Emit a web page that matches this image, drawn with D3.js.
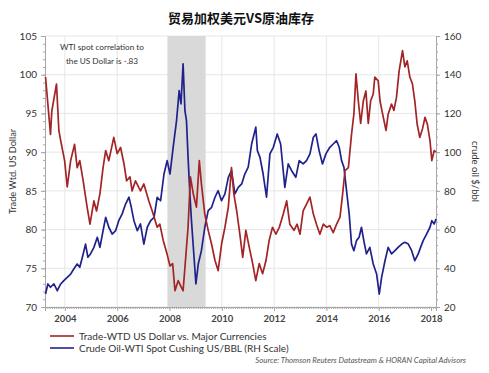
<!DOCTYPE html>
<html><head><meta charset="utf-8">
<script src="https://cdn.jsdelivr.net/npm/d3@7"></script>
<style>body{margin:0;background:#fff}svg{display:block}</style>
</head><body>
<svg id="c" width="489" height="373"></svg>
<script>
const title = "贸易加权美元VS原油库存";
const leftTicks = [70,75,80,85,90,95,100,105];
const rightTicks = [20,40,60,80,100,120,140,160];
const yearTicks = [2004,2006,2008,2010,2012,2014,2016,2018];
const recession = [2007.92, 2009.38];

const dollarYears = [2003.26,2003.45,2003.5,2003.68,2003.77,2003.84,2003.99,2004.09,2004.22,2004.37,2004.47,2004.57,2004.7,2004.85,2004.96,2005.11,2005.21,2005.34,2005.46,2005.56,2005.68,2005.87,2006.0,2006.13,2006.26,2006.36,2006.49,2006.57,2006.7,2006.89,2007.02,2007.21,2007.34,2007.53,2007.63,2007.76,2007.91,2008.02,2008.12,2008.21,2008.33,2008.46,2008.52,2008.59,2008.71,2008.8,2008.91,2009.03,2009.14,2009.22,2009.35,2009.48,2009.61,2009.74,2009.86,2009.99,2010.12,2010.25,2010.37,2010.46,2010.57,2010.69,2010.8,2010.92,2011.05,2011.18,2011.3,2011.43,2011.56,2011.69,2011.81,2011.94,2012.07,2012.2,2012.35,2012.48,2012.6,2012.76,2012.88,2012.99,2013.11,2013.24,2013.37,2013.5,2013.62,2013.75,2013.88,2014.01,2014.13,2014.26,2014.39,2014.52,2014.62,2014.71,2014.84,2014.96,2015.05,2015.13,2015.22,2015.31,2015.41,2015.51,2015.6,2015.69,2015.79,2015.85,2015.98,2016.05,2016.15,2016.28,2016.36,2016.49,2016.58,2016.68,2016.78,2016.91,2017.0,2017.09,2017.19,2017.29,2017.38,2017.47,2017.57,2017.68,2017.77,2017.86,2017.96,2018.03,2018.12,2018.19];
const dollarValues = [99.7,92.3,95.3,98.8,92.8,91.5,88.9,85.5,88.9,91.0,88.0,88.9,86.3,82.9,80.7,83.7,82.4,84.6,88.0,90.2,88.9,91.9,89.8,90.6,88.5,86.3,86.8,85.0,86.3,85.0,85.9,83.7,82.4,80.3,80.7,78.6,76.8,75.3,75.6,72.1,73.4,72.5,72.1,75.1,80.3,86.8,84.6,82.9,88.9,85.9,82.0,79.9,78.1,76.0,74.7,78.1,80.3,82.9,88.0,84.6,82.4,79.4,76.4,79.9,77.7,75.6,73.4,75.6,74.3,76.0,78.6,80.3,79.4,80.3,82.0,83.7,80.7,79.9,80.7,79.4,82.4,83.3,84.2,82.0,80.7,79.4,80.7,80.3,80.5,79.6,80.7,81.6,84.6,87.6,88.0,92.3,94.9,100.1,96.6,93.7,96.6,97.9,93.7,96.6,97.5,99.7,99.2,96.6,94.9,92.8,94.9,96.2,95.4,97.1,100.5,103.1,101.0,101.8,99.7,98.8,96.6,93.6,91.9,93.1,94.5,93.6,91.5,88.9,90.2,90.0];

const oilYears = [2003.26,2003.35,2003.45,2003.58,2003.71,2003.84,2003.96,2004.09,2004.22,2004.34,2004.47,2004.57,2004.7,2004.79,2004.88,2004.98,2005.11,2005.24,2005.34,2005.46,2005.56,2005.68,2005.81,2005.94,2006.06,2006.19,2006.32,2006.45,2006.54,2006.64,2006.77,2006.89,2007.02,2007.15,2007.28,2007.41,2007.53,2007.66,2007.79,2007.91,2008.02,2008.14,2008.27,2008.37,2008.44,2008.52,2008.59,2008.65,2008.71,2008.78,2008.84,2008.93,2009.01,2009.1,2009.22,2009.35,2009.48,2009.61,2009.74,2009.86,2009.99,2010.12,2010.25,2010.37,2010.5,2010.63,2010.76,2010.88,2011.01,2011.14,2011.3,2011.36,2011.46,2011.58,2011.71,2011.84,2011.97,2012.12,2012.25,2012.41,2012.54,2012.67,2012.83,2012.96,2013.11,2013.24,2013.37,2013.5,2013.6,2013.72,2013.85,2013.98,2014.13,2014.26,2014.39,2014.49,2014.58,2014.67,2014.77,2014.87,2014.96,2015.05,2015.15,2015.25,2015.34,2015.43,2015.53,2015.66,2015.79,2015.92,2016.02,2016.11,2016.24,2016.36,2016.49,2016.62,2016.74,2016.88,2017.0,2017.13,2017.26,2017.38,2017.51,2017.6,2017.7,2017.83,2017.96,2018.03,2018.12,2018.19];
const oilValues = [26.7,31.9,30.2,31.9,28.4,31.9,33.6,35.3,37.0,39.6,42.2,40.5,47.4,52.5,45.7,47.4,50.8,56.0,50.8,59.4,66.3,61.2,57.7,59.4,64.6,68.1,73.2,76.7,71.5,64.6,59.4,62.9,52.5,61.2,64.6,66.3,76.7,74.9,88.7,95.6,88.7,102.5,116.3,131.8,124.9,145.6,121.4,116.3,97.3,78.4,64.6,47.4,31.9,42.2,49.1,61.2,69.8,71.5,76.7,80.1,74.9,78.4,87.0,90.4,78.4,81.8,83.6,88.7,92.2,104.2,112.9,100.8,97.3,88.7,76.7,99.1,102.5,109.4,104.2,81.8,93.9,90.4,87.0,95.6,93.9,95.6,99.1,107.7,109.4,100.8,93.9,99.1,102.5,104.2,105.9,102.5,95.6,92.2,80.1,68.1,52.5,49.1,54.3,56.0,61.2,54.3,47.4,50.8,42.2,37.0,26.7,35.3,43.9,50.8,47.4,49.1,50.8,52.5,53.4,52.5,49.1,43.9,47.4,50.8,54.3,57.7,61.2,64.6,62.9,65.5];

const legendLabels = ["Trade-WTD US Dollar vs. Major Currencies","Crude Oil-WTI Spot Cushing US/BBL (RH Scale)"];
const seriesColors = ["#a32426","#20228c"];

const svg = d3.select("#c");
const m = {l:45, r:436, t:36, b:307};
const x = d3.scaleLinear().domain([2003.24, 2018.19]).range([m.l, m.r]);
const yL = d3.scaleLinear().domain([70,105]).range([m.b, m.t]);
const yR = d3.scaleLinear().domain([20,160]).range([m.b, m.t]);
const font = "Lato, 'Open Sans', sans-serif";

// title
svg.append("text").attr("x",241).attr("y",23).attr("text-anchor","middle")
  .attr("font-family","'Noto Sans CJK SC', sans-serif").attr("font-weight","bold")
  .attr("font-size",13).attr("fill","#111").text(title);

// gridlines
const g = svg.append("g");
g.selectAll(".hg").data(leftTicks).join("line")
  .attr("x1",m.l).attr("x2",m.r).attr("y1",d=>yL(d)).attr("y2",d=>yL(d))
  .attr("stroke","#e6e6e6").attr("stroke-width",1);
g.selectAll(".vg").data(yearTicks.filter(d=>d<2018)).join("line")
  .attr("x1",d=>x(d)).attr("x2",d=>x(d)).attr("y1",m.t).attr("y2",m.b)
  .attr("stroke","#e6e6e6").attr("stroke-width",1);

// recession shading
svg.append("rect").attr("x",x(recession[0])).attr("width",x(recession[1])-x(recession[0]))
  .attr("y",m.t).attr("height",m.b-m.t).attr("fill","#d9d9d9");

// axes
const axisColor = "#a6a6a6";
const styleAxis = sel => {
  sel.select(".domain").attr("stroke",axisColor);
  sel.selectAll(".tick line").attr("stroke",axisColor);
  sel.selectAll("text").attr("font-family",font).attr("font-size",10).attr("fill","#333");
};
svg.append("g").attr("transform",`translate(${m.l},0)`)
  .call(d3.axisLeft(yL).tickValues(d3.range(70,105.01,1)).tickSize(2).tickFormat(""))
  .call(s=>{s.select(".domain").remove();s.selectAll("line").attr("stroke",axisColor);});
svg.append("g").attr("transform",`translate(${m.r},0)`)
  .call(d3.axisRight(yR).tickValues(d3.range(20,160.01,4)).tickSize(2).tickFormat(""))
  .call(s=>{s.select(".domain").remove();s.selectAll("line").attr("stroke",axisColor);});
svg.append("g").attr("transform",`translate(0,${m.b})`)
  .call(d3.axisBottom(x).tickValues(d3.range(2003.25,2018.2,1/12)).tickSize(2).tickFormat(""))
  .call(s=>{s.select(".domain").remove();s.selectAll("line").attr("stroke",axisColor);});

svg.append("g").attr("transform",`translate(${m.l},0)`)
  .call(d3.axisLeft(yL).tickValues(leftTicks).tickSize(4).tickPadding(4).tickFormat(d3.format("d")))
  .call(styleAxis);
svg.append("g").attr("transform",`translate(${m.r},0)`)
  .call(d3.axisRight(yR).tickValues(rightTicks).tickSize(4).tickPadding(4).tickFormat(d3.format("d")))
  .call(styleAxis);
svg.append("g").attr("transform",`translate(0,${m.b})`)
  .call(d3.axisBottom(x).tickValues(yearTicks).tickSize(4).tickPadding(4).tickFormat(d3.format("d")))
  .call(styleAxis)
  .call(s=>s.selectAll("text").attr("font-weight","bold").attr("font-size",9.5).attr("fill","#444"));

// axis titles
svg.append("text").attr("transform",`translate(16,${(m.t+m.b)/2}) rotate(-90)`)
  .attr("text-anchor","middle").attr("font-family",font).attr("font-size",9.2).attr("fill","#333")
  .text("Trade Wtd. US Dollar");
svg.append("text").attr("transform",`translate(472,${(m.t+m.b)/2}) rotate(90)`)
  .attr("text-anchor","middle").attr("font-family",font).attr("font-size",9.5).attr("fill","#333")
  .text("crude oil $/bbl");

// lines
const dollarData = dollarYears.map((d,i)=>[d,dollarValues[i]]);
const oilData = oilYears.map((d,i)=>[d,oilValues[i]]);
svg.append("path").datum(oilData).attr("fill","none").attr("stroke",seriesColors[1])
  .attr("stroke-width",1.7).attr("stroke-linejoin","round")
  .attr("d",d3.line().x(d=>x(d[0])).y(d=>yR(d[1])));
svg.append("path").datum(dollarData).attr("fill","none").attr("stroke",seriesColors[0])
  .attr("stroke-width",1.7).attr("stroke-linejoin","round")
  .attr("d",d3.line().x(d=>x(d[0])).y(d=>yL(d[1])));

// annotation
const ann = svg.append("text").attr("font-family",font).attr("font-size",8.2).attr("fill","#333").attr("text-anchor","middle");
ann.append("tspan").attr("x",102).attr("y",50).text("WTI spot correlation to");
ann.append("tspan").attr("x",102).attr("y",64).text("the US Dollar is -.83");

// legend
const lg = svg.append("g");
legendLabels.forEach((t,i)=>{
  const yy = 336 + i*12;
  lg.append("line").attr("x1",50).attr("x2",74).attr("y1",yy).attr("y2",yy)
    .attr("stroke",seriesColors[i]).attr("stroke-width",1.6);
  lg.append("text").attr("x",79).attr("y",yy+3.5).attr("font-family",font)
    .attr("font-size",10).attr("fill","#333").text(t);
});

// source
svg.append("text").attr("x",466).attr("y",363).attr("text-anchor","end")
  .attr("font-family",font).attr("font-style","italic").attr("font-size",7.8).attr("fill","#555")
  .text("Source: Thomson Reuters Datastream & HORAN Capital Advisors");
</script>
</body></html>
